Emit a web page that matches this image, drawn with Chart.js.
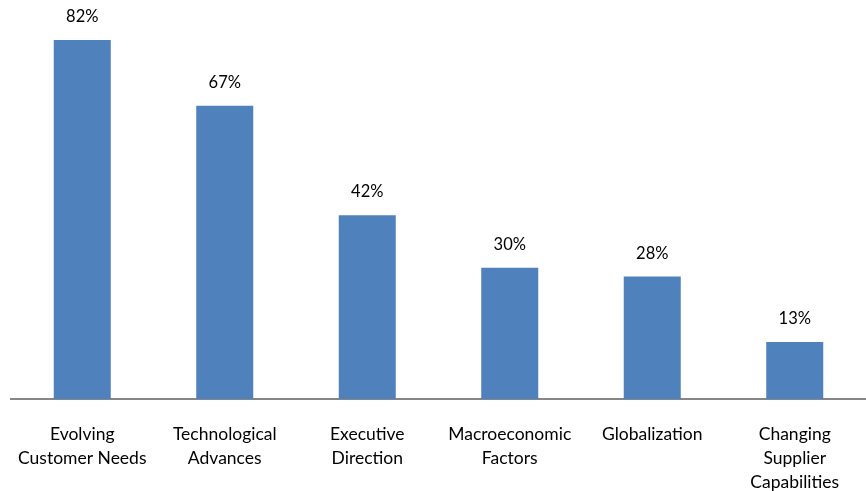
<!DOCTYPE html>
<html>
<head>
<meta charset="utf-8">
<script src="https://cdn.jsdelivr.net/npm/chart.js@4/dist/chart.umd.min.js"></script>
<style>
  html, body { margin: 0; padding: 0; background: #fff; }
  #wrap { width: 866px; height: 491px; position: relative; }
</style>
</head>
<body>
<div id="wrap"><canvas id="chart"></canvas></div>
<script>
// categories (each entry split into display lines) and values in percent
const categories = [
    ['Evolving', 'Customer Needs'],
    ['Technological', 'Advances'],
    ['Executive', 'Direction'],
    ['Macroeconomic', 'Factors'],
    ['Globalization'],
    ['Changing', 'Supplier', 'Capabilities']
];
const values = [82, 67, 42, 30, 28, 13];
const valueLabels = ['82%', '67%', '42%', '30%', '28%', '13%'];

const FONT = 'Lato, "Open Sans", sans-serif';

// writes the percentage above each bar
const barLabels = {
    id: 'barLabels',
    afterDatasetsDraw(chart) {
        const ctx = chart.ctx;
        const meta = chart.getDatasetMeta(0);
        ctx.save();
        ctx.font = '16.5px ' + FONT;
        ctx.fillStyle = '#000';
        ctx.textAlign = 'center';
        ctx.textBaseline = 'middle';
        meta.data.forEach((bar, i) => {
            ctx.fillText(valueLabels[i], bar.x, bar.y - 23);
        });
        ctx.restore();
    }
};

new Chart(document.getElementById('chart').getContext('2d'), {
    type: 'bar',
    data: {
        labels: categories,
        datasets: [{ data: values, backgroundColor: '#4F81BD', categoryPercentage: 1, barPercentage: 0.4 }]
    },
    options: {
        responsive: true,
        maintainAspectRatio: false,
        animation: false,
        layout: { padding: { top: 5, left: 11, right: 0, bottom: 0 } },
        plugins: { legend: { display: false }, tooltip: { enabled: false } },
        scales: {
            x: {
                grid: { display: false, drawTicks: false },
                border: { color: '#868686', width: 2 },
                ticks: { color: '#000', padding: 23, maxRotation: 0, autoSkip: false, font: { family: FONT, size: 17.5, lineHeight: 1.38 } },
                afterFit(scale) {
                    scale.height = 92;
                    scale.paddingLeft = 0;
                    scale.paddingRight = 0;
                }
            },
            y: { display: false, min: 0, max: 90 }
        }
    },
    plugins: [barLabels]
});
</script>
</body>
</html>
